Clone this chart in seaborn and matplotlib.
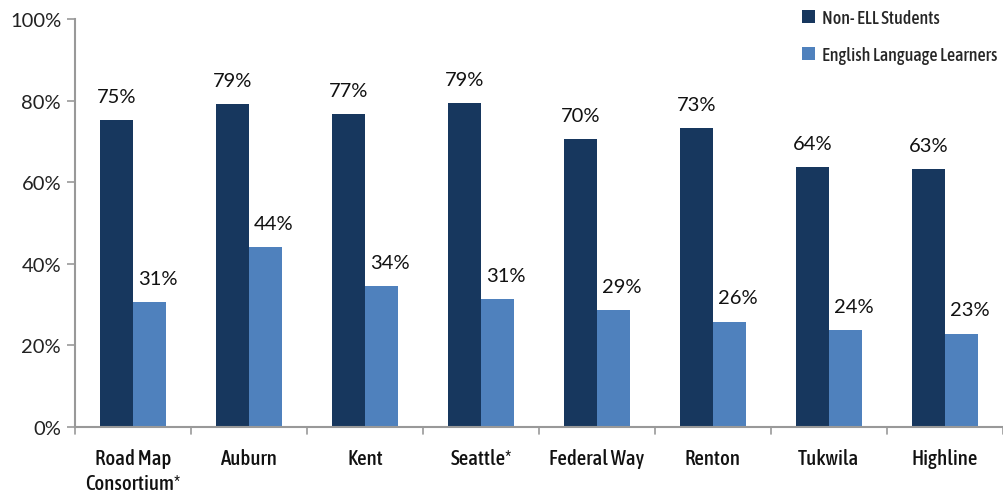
import matplotlib
matplotlib.use("Agg")
import matplotlib.pyplot as plt
import seaborn as sns
import pandas as pd
import numpy as np
from matplotlib import font_manager as fm
from matplotlib.font_manager import FontProperties

categories = ["Road Map\nConsortium*", "Auburn", "Kent", "Seattle*", "Federal Way",
              "Renton", "Tukwila", "Highline"]
non_ell = [75.2, 79.2, 76.7, 79.4, 70.5, 73.2, 63.7, 63.2]
ell = [30.6, 44.1, 34.5, 31.4, 28.7, 25.8, 23.8, 22.9]
series_names = ["Non- ELL Students", "English Language Learners"]
colors = ["#17375E", "#4F81BD"]
y_ticks = [0, 20, 40, 60, 80, 100]

df = pd.DataFrame({
    "District": categories * 2,
    "Value": non_ell + ell,
    "Group": [series_names[0]] * len(categories) + [series_names[1]] * len(categories),
})

sns.set_theme(style="white")
plt.rcParams["font.family"] = ["Lato", "DejaVu Sans"]

# find a condensed font if one is installed
cond = [f for f in fm.fontManager.ttflist
        if f.stretch in ("condensed", "semi-condensed", "extra-condensed")
        or "Condensed" in f.name or "Narrow" in f.name]
def _w(f):
    try:
        return abs(int(f.weight) - 500)
    except Exception:
        return 0
cond = sorted(cond, key=lambda f: (f.style != "normal", _w(f)))
if cond:
    lab_fp = FontProperties(fname=cond[0].fname, size=15)
    leg_fp = FontProperties(fname=cond[0].fname, size=13)
else:
    lab_fp = FontProperties(family="Roboto", weight="medium", size=13.5)
    leg_fp = FontProperties(family="Roboto", size=10.8)

fig = plt.figure(figsize=(10.04, 5.02), dpi=100)
ax = fig.add_axes([0.0747, 0.1474, 0.9243, 0.8126])

sns.barplot(data=df, x="District", y="Value", hue="Group", palette=colors,
            width=0.57, gap=0, ax=ax, saturation=1, legend=False, linewidth=0)

ax.set_ylim(0, 100)
ax.set_xlim(-0.5, len(categories) - 0.5)
ax.set_yticks(y_ticks)
ax.set_yticklabels([f"{t}%" for t in y_ticks], fontsize=14.5, color="#222222")
ax.set_xlabel("")
ax.set_ylabel("")

ax.set_xticks(np.arange(len(categories)))
ax.set_xticklabels(categories, fontproperties=lab_fp, color="#111111",
                   linespacing=1.35)
ax.tick_params(axis="x", length=0, pad=15)
for b in np.arange(-0.5, len(categories) + 0.5, 1):
    ax.plot([b, b], [0, -0.018], transform=ax.get_xaxis_transform(),
            color="#999999", lw=1.2, clip_on=False)
ax.tick_params(axis="y", length=6, width=1.2, color="#999999", left=True, pad=4)

for s in ["top", "right"]:
    ax.spines[s].set_visible(False)
for s in ["left", "bottom"]:
    ax.spines[s].set_color("#999999")
    ax.spines[s].set_linewidth(1.5)

for i, container in enumerate(ax.containers):
    texts = ax.bar_label(container, labels=[f"{v:.0f}%" for v in container.datavalues],
                         padding=11, fontsize=14.5, color="#111111")
    if i == 1:
        for t in texts:
            t.xyann = (6, t.xyann[1])

from matplotlib.patches import Patch
handles = [Patch(facecolor=c, edgecolor="none") for c in colors]
leg = fig.legend(handles, series_names, loc="upper left", bbox_to_anchor=(0.783, 1.013),
                 frameon=False, handlelength=0.7, handleheight=0.7, handletextpad=0.4,
                 labelspacing=1.05, prop=leg_fp)

fig.savefig("out.png", dpi=100)
